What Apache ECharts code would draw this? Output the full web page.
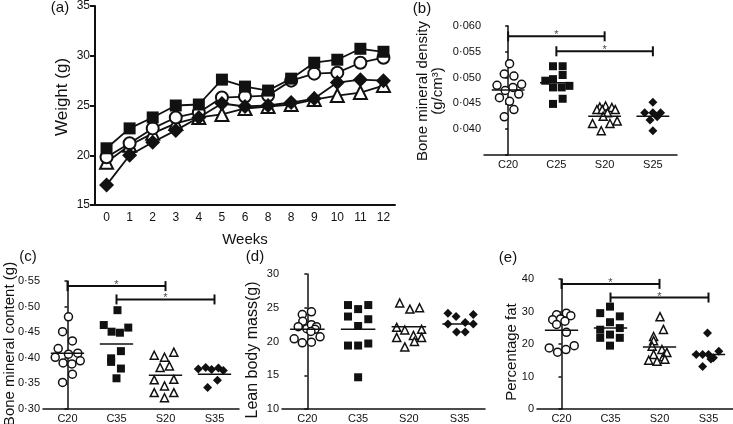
<!DOCTYPE html>
<html>
<head>
<meta charset="utf-8">
<script src="https://cdn.jsdelivr.net/npm/echarts@6/dist/echarts.min.js"></script>
<style>
  html, body { margin: 0; padding: 0; background: #fff; }
  #chart { width: 733px; height: 424px; }
</style>
</head>
<body>
<div id="chart"></div>
<script>
// (a) weight over the weeks, one list per group
var weekLabels = ['0', '1', '2', '3', '4', '5', '6', '8', '8', '9', '10', '11', '12'];
var wtSquare = [20.7, 22.7, 23.8, 25.0, 25.1, 27.6, 26.9, 26.5, 27.7, 29.3, 29.6, 30.7, 30.4];
var wtCircle = [19.8, 21.2, 22.7, 23.8, 24.3, 25.8, 25.9, 26.0, 27.5, 28.2, 28.3, 29.3, 29.8];
var wtTriangle = [19.3, 21.0, 22.2, 23.2, 23.8, 24.1, 24.7, 24.9, 25.1, 25.6, 26.0, 26.3, 27.0];
var wtDiamond = [17.0, 20.0, 21.3, 22.5, 23.8, 25.2, 24.9, 25.0, 25.3, 25.7, 27.3, 27.6, 27.5];

// (b) bone mineral density, points are [jitter, value]
var bmdNames = ['C20', 'C25', 'S20', 'S25'];
var bmdC20 = [[0.03, 0.0527], [-0.08, 0.0507], [0.12, 0.0503], [-0.23, 0.0485], [0.28, 0.0487], [0.10, 0.0481], [-0.06, 0.0475], [0.22, 0.0468], [-0.18, 0.0461], [0.03, 0.0454], [0.12, 0.0438], [-0.08, 0.0424]];
var bmdC25 = [[-0.07, 0.0522], [0.13, 0.0522], [0.13, 0.0505], [-0.23, 0.0494], [-0.07, 0.0497], [0.27, 0.0484], [-0.07, 0.0481], [0.11, 0.0481], [0.13, 0.0459], [-0.07, 0.0449]];
var bmdS20 = [[-0.10, 0.0443], [0.02, 0.0445], [0.15, 0.0442], [-0.16, 0.0438], [-0.05, 0.0438], [0.22, 0.0438], [0.06, 0.0432], [-0.03, 0.0425], [-0.25, 0.0411], [0.26, 0.0416], [0.11, 0.0411], [-0.07, 0.0397]];
var bmdS25 = [[0.0, 0.0452], [-0.17, 0.0432], [0.0, 0.0432], [0.16, 0.0432], [0.09, 0.0424], [-0.06, 0.0418], [0.0, 0.0397]];
var bmdMeans = [0.0476, 0.0490, 0.0425, 0.0425];
var bmdSig = [[0, 2, 0.0580], [1, 3, 0.0551]];

var grpNames = ['C20', 'C35', 'S20', 'S35'];

// (c) bone mineral content
var bmcC20 = [[0.02, 0.480], [-0.10, 0.451], [0.10, 0.433], [-0.19, 0.418], [0.02, 0.407], [0.21, 0.409], [-0.25, 0.401], [-0.09, 0.390], [0.09, 0.388], [0.26, 0.394], [0.10, 0.368], [-0.10, 0.352]];
var bmcC35 = [[0.02, 0.493], [-0.26, 0.464], [-0.10, 0.451], [0.07, 0.449], [0.24, 0.459], [0.09, 0.413], [-0.11, 0.399], [-0.11, 0.392], [0.09, 0.379], [0.0, 0.360]];
var bmcS20 = [[-0.23, 0.405], [-0.02, 0.401], [0.17, 0.411], [-0.11, 0.381], [0.08, 0.384], [-0.23, 0.357], [0.17, 0.358], [-0.02, 0.345], [-0.23, 0.332], [0.17, 0.332], [-0.02, 0.322]];
var bmcS35 = [[-0.33, 0.378], [-0.18, 0.381], [-0.06, 0.377], [0.08, 0.380], [0.18, 0.375], [0.06, 0.356], [-0.14, 0.342]];
var bmcMeans = [0.409, 0.427, 0.366, 0.368];
var bmcSig = [[0, 2, 0.540], [1, 3, 0.514]];

// (d) lean body mass
var lbmC20 = [[0.08, 24.4], [-0.10, 24.0], [-0.09, 23.0], [-0.18, 22.2], [-0.01, 21.9], [0.08, 22.5], [0.18, 22.2], [0.15, 21.8], [0.07, 21.5], [-0.26, 20.4], [-0.10, 19.8], [0.08, 19.9], [0.25, 20.7]];
var lbmC35 = [[-0.20, 25.4], [0.20, 25.4], [0.0, 24.8], [-0.20, 23.7], [0.20, 23.3], [0.0, 22.3], [-0.20, 19.4], [0.0, 19.4], [0.20, 19.7], [0.0, 14.7]];
var lbmS20 = [[-0.18, 25.7], [0.02, 24.8], [0.21, 25.0], [-0.24, 22.1], [-0.08, 21.7], [0.25, 21.8], [-0.24, 20.6], [0.09, 20.9], [0.25, 20.6], [0.11, 20.0], [-0.08, 19.2]];
var lbmS35 = [[-0.23, 24.2], [-0.07, 23.7], [0.27, 24.0], [-0.23, 22.6], [0.11, 22.8], [0.27, 22.6], [-0.06, 21.4], [0.11, 21.4]];
var lbmMeans = [21.8, 21.8, 22.2, 22.6];

// (e) percentage fat
var fatC20 = [[-0.10, 29.0], [0.10, 29.5], [0.19, 28.7], [-0.18, 27.5], [-0.02, 27.7], [0.07, 27.0], [-0.10, 26.0], [0.10, 23.6], [-0.25, 18.8], [-0.08, 17.5], [0.09, 18.3], [0.26, 19.5]];
var fatC35 = [[-0.01, 31.5], [-0.21, 29.5], [0.19, 28.5], [-0.01, 26.7], [-0.21, 24.4], [0.19, 24.9], [-0.21, 21.9], [-0.01, 22.9], [0.19, 21.9], [-0.01, 19.5]];
var fatS20 = [[0.01, 28.4], [0.08, 24.5], [-0.12, 22.3], [-0.12, 21.0], [-0.15, 19.3], [0.05, 18.3], [-0.12, 16.8], [0.08, 16.1], [0.15, 17.4], [-0.22, 15.0], [-0.05, 14.7], [0.11, 15.3]];
var fatS35 = [[-0.02, 23.4], [-0.25, 16.8], [-0.12, 16.8], [0.0, 16.8], [0.10, 15.8], [0.21, 17.8], [-0.12, 13.1], [0.05, 15.4]];
var fatMeans = [24.2, 24.9, 19.1, 16.8];
var fatSig = [[0, 2, 38.5], [1, 3, 34.3]];

var FONT = 'Liberation Sans, Arial, sans-serif';
var INK = '#111';

var grids = [
  {left: 95, top: 5, width: 300, height: 200},
  {left: 484, top: 26, width: 193, height: 129},
  {left: 43, top: 281, width: 196, height: 128},
  {left: 282, top: 274, width: 203, height: 136},
  {left: 537, top: 279, width: 196, height: 131}
];

function marker(shape, size, border) {
  var open = shape == 'circle' || shape == 'triangle';
  return {
    symbol: shape,
    symbolSize: size,
    itemStyle: open ? {color: '#fff', borderColor: INK, borderWidth: border, opacity: 1}
                    : {color: INK, opacity: 1}
  };
}

var xAxes = [{
  type: 'category', gridIndex: 0,
  data: weekLabels.map(function (w, i) { return 'w' + i; }),
  name: 'Weeks', nameLocation: 'middle', nameGap: 27,
  nameTextStyle: {fontSize: 15, color: INK, fontFamily: FONT},
  axisLine: {lineStyle: {color: INK, width: 2}},
  axisTick: {alignWithLabel: true, length: 5, lineStyle: {color: INK, width: 2}},
  axisLabel: {
    margin: 7, fontSize: 12, color: INK, fontFamily: FONT,
    formatter: function (v, i) { return weekLabels[i]; }
  }
}];
var yAxes = [{
  type: 'value', gridIndex: 0, min: 15, max: 35, interval: 5,
  axisLine: {show: true, lineStyle: {color: INK, width: 2}},
  axisTick: {show: true, length: 5, lineStyle: {color: INK, width: 2}},
  axisLabel: {margin: 5, fontSize: 12, color: INK, fontFamily: FONT},
  splitLine: {show: false}
}];

var series = [];
var weekShapes = [
  [wtTriangle, 'triangle', 13],
  [wtCircle, 'circle', 12],
  [wtDiamond, 'diamond', 15],
  [wtSquare, 'rect', 12]
];
weekShapes.forEach(function (s, k) {
  var m = marker(s[1], s[2], 2);
  series.push({
    type: 'line', xAxisIndex: 0, yAxisIndex: 0, data: s[0],
    symbol: m.symbol, symbolSize: m.symbolSize, showSymbol: true,
    itemStyle: m.itemStyle,
    lineStyle: {color: INK, width: 1.8},
    z: 2 + k
  });
});

var scatterPanels = [
  {names: bmdNames, groups: [bmdC20, bmdC25, bmdS20, bmdS25], means: bmdMeans, sig: bmdSig,
   min: 0.035, max: 0.060, step: 0.005, digits: 3, hideBelow: 0.0375, fs: 11},
  {names: grpNames, groups: [bmcC20, bmcC35, bmcS20, bmcS35], means: bmcMeans, sig: bmcSig,
   min: 0.30, max: 0.55, step: 0.05, digits: 2, fs: 11},
  {names: grpNames, groups: [lbmC20, lbmC35, lbmS20, lbmS35], means: lbmMeans, sig: [],
   min: 10, max: 30, step: 5, digits: 0, fs: 11},
  {names: grpNames, groups: [fatC20, fatC35, fatS20, fatS35], means: fatMeans, sig: fatSig,
   min: 0, max: 40, step: 10, digits: 0, fs: 11}
];
var groupShapes = [['circle', 8], ['rect', 8], ['triangle', 8], ['diamond', 9]];

scatterPanels.forEach(function (p, k) {
  var g = k + 1;
  xAxes.push({
    type: 'category', gridIndex: g, data: p.names,
    axisLine: {lineStyle: {color: INK, width: 1.5}},
    axisTick: {alignWithLabel: true, length: 4, lineStyle: {color: INK, width: 1.5}},
    axisLabel: {margin: 4, fontSize: p.fs, color: INK, fontFamily: FONT}
  });
  var valIdx = xAxes.length;
  xAxes.push({type: 'value', gridIndex: g, min: -0.5, max: 3.5, show: false});
  yAxes.push({
    type: 'value', gridIndex: g, min: p.min, max: p.max, interval: p.step,
    axisLine: {show: true, lineStyle: {color: INK, width: 1.5}},
    axisTick: {show: true, length: 3, lineStyle: {color: INK, width: 1.5}},
    axisLabel: {
      margin: 3, fontSize: p.fs, color: INK, fontFamily: FONT,
      formatter: function (v) {
        if (p.hideBelow && v < p.hideBelow) return '';
        return v.toFixed(p.digits).replace('.', '\u00b7');
      }
    },
    splitLine: {show: false}
  });

  p.groups.forEach(function (grp, i) {
    var m = marker(groupShapes[i][0], groupShapes[i][1], 1.5);
    series.push({
      type: 'scatter', xAxisIndex: valIdx, yAxisIndex: g,
      data: grp.map(function (d) { return [i + d[0], d[1]]; }),
      symbol: m.symbol, symbolSize: m.symbolSize, itemStyle: m.itemStyle, z: 2
    });
    // group mean
    series.push({
      type: 'line', xAxisIndex: valIdx, yAxisIndex: g,
      data: [[i - 0.34, p.means[i]], [i + 0.34, p.means[i]]],
      symbol: 'none', lineStyle: {color: INK, width: 1.5}, z: 5
    });
  });

  p.sig.forEach(function (s) {
    series.push({
      type: 'line', xAxisIndex: valIdx, yAxisIndex: g,
      data: [[s[0], s[2]], [s[1], s[2]]],
      symbol: 'rect', symbolSize: [2, 10], showSymbol: true,
      itemStyle: {color: INK}, lineStyle: {color: INK, width: 2}, z: 5
    });
    series.push({
      type: 'scatter', xAxisIndex: valIdx, yAxisIndex: g,
      data: [[(s[0] + s[1]) / 2, s[2]]],
      symbolSize: 1, itemStyle: {color: 'rgba(0,0,0,0)'},
      label: {show: true, formatter: '*', position: 'inside', offset: [0, -1],
              fontSize: 11, color: INK, fontFamily: FONT},
      z: 6
    });
  });
});

function vText(txt, x, y, size) {
  return {
    type: 'text', x: x, y: y, rotation: Math.PI / 2,
    style: {text: txt, fontSize: size, fontFamily: FONT, fill: INK, lineHeight: 15,
            align: 'center', verticalAlign: 'middle', textAlign: 'center', textVerticalAlign: 'middle'}
  };
}
function pText(txt, x, y) {
  return {
    type: 'text', x: x, y: y,
    style: {text: txt, fontSize: 15, fontFamily: FONT, fill: INK,
            align: 'center', verticalAlign: 'middle', textAlign: 'center', textVerticalAlign: 'middle'}
  };
}

var chart = echarts.init(document.getElementById('chart'));
chart.setOption({
  animation: false,
  backgroundColor: '#fff',
  grid: grids,
  xAxis: xAxes,
  yAxis: yAxes,
  series: series,
  graphic: [
    pText('(a)', 60, 8), pText('(b)', 422, 9), pText('(c)', 28, 257), pText('(d)', 255, 257), pText('(e)', 508, 258),
    vText('Weight (g)', 62, 97, 17),
    vText('Bone mineral density\n(g/cm\u00b3)', 430, 91, 15),
    vText('Bone mineral content (g)', 10, 344, 15),
    vText('Lean body mass(g)', 253, 350, 16),
    vText('Percentage fat', 512, 352, 15)
  ]
});
</script>
</body>
</html>
